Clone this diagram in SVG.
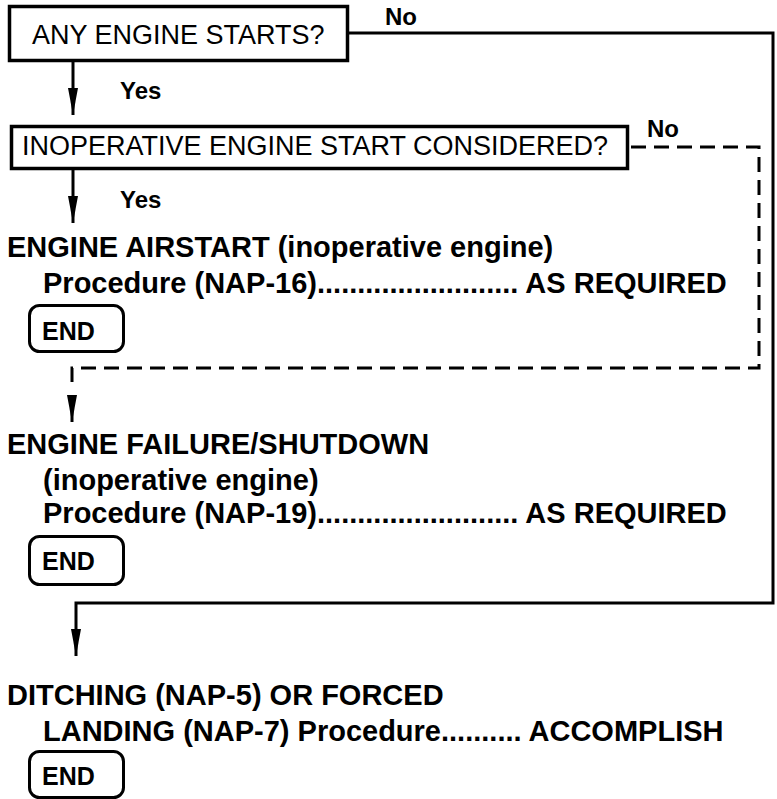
<svg xmlns="http://www.w3.org/2000/svg" width="777" height="799" viewBox="0 0 777 799">
<style>
.box{fill:#fff;stroke:#000;stroke-width:3.5}
.end{fill:#fff;stroke:#000;stroke-width:3}
.q{font-family:"Liberation Sans",Arial,sans-serif;font-size:27px;fill:#000}
.b{font-family:"Liberation Sans",Arial,sans-serif;font-size:29px;font-weight:bold;fill:#000}
.lbl{font-family:"Liberation Sans",Arial,sans-serif;font-size:24px;font-weight:bold;fill:#000}
.e{font-family:"Liberation Sans",Arial,sans-serif;font-size:25px;font-weight:bold;fill:#000}
.ln{fill:none;stroke:#000;stroke-width:3}
.dash{fill:none;stroke:#000;stroke-width:3;stroke-dasharray:15 8}
</style>
<defs>
<marker id="ah" markerUnits="userSpaceOnUse" markerWidth="28" markerHeight="11" refX="27" refY="5" orient="auto">
<path d="M0,0 L27,5 L0,10 Z" fill="#000"/>
</marker>
</defs>
<rect width="777" height="799" fill="#fff"/>
<g id="connectors">
<path class="ln" d="M349,33 H773 V603 H76 V656" marker-end="url(#ah)"/>
<path class="ln" d="M73,61 V115" marker-end="url(#ah)"/>
<path class="ln" d="M73,170 V223" marker-end="url(#ah)"/>
<path class="dash" d="M631,147 H759 V368 H72 V383"/>
<path class="ln" d="M72,396 V422" marker-end="url(#ah)"/>
<text class="lbl" x="385" y="25">No</text>
<text class="lbl" x="120" y="99">Yes</text>
<text class="lbl" x="647" y="137">No</text>
<text class="lbl" x="120" y="208">Yes</text>
</g>
<g id="q1">
<rect class="box" x="9.5" y="6.5" width="338" height="54"/>
<text class="q" x="32" y="44">ANY ENGINE STARTS?</text>
</g>
<g id="q2">
<rect class="box" x="11.5" y="126.5" width="616" height="42"/>
<text class="q" x="22" y="155">INOPERATIVE ENGINE START CONSIDERED?</text>
</g>
<g id="airstart">
<text class="b" x="7" y="257">ENGINE AIRSTART (inoperative engine)</text>
<text class="b" x="43" y="293">Procedure (NAP-16)......................... AS REQUIRED</text>
</g>
<g id="end1">
<rect class="end" x="29.5" y="305.5" width="94" height="46" rx="10"/>
<text class="e" x="42" y="340">END</text>
</g>
<g id="failure">
<text class="b" x="7" y="454">ENGINE FAILURE/SHUTDOWN</text>
<text class="b" x="43" y="490">(inoperative engine)</text>
<text class="b" x="43" y="523">Procedure (NAP-19)......................... AS REQUIRED</text>
</g>
<g id="end2">
<rect class="end" x="29.5" y="536.5" width="94" height="48" rx="10"/>
<text class="e" x="42" y="570">END</text>
</g>
<g id="ditching">
<text class="b" x="7" y="705">DITCHING (NAP-5) OR FORCED</text>
<text class="b" x="43" y="741">LANDING (NAP-7) Procedure.......... ACCOMPLISH</text>
</g>
<g id="end3">
<rect class="end" x="29.5" y="751.5" width="94" height="46" rx="10"/>
<text class="e" x="42" y="785">END</text>
</g>
</svg>
